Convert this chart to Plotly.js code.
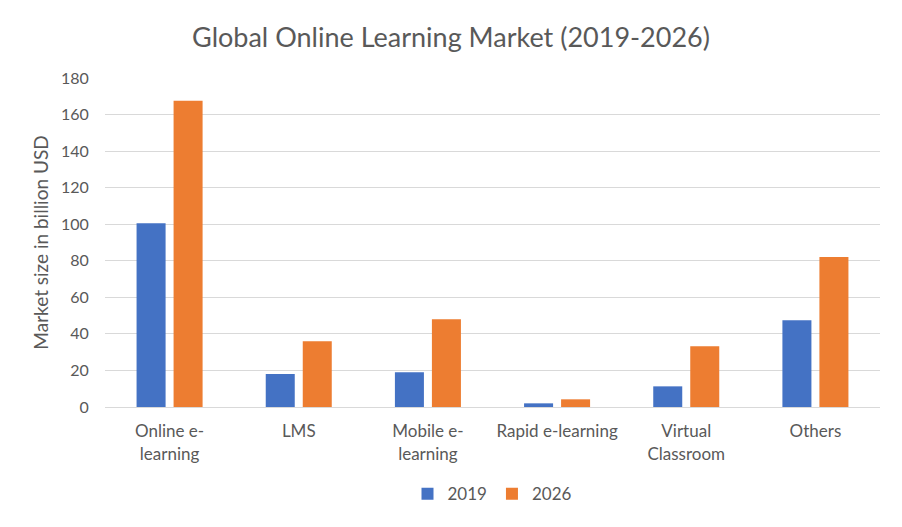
<!DOCTYPE html>
<html>
<head>
<meta charset="utf-8">
<script src="https://cdn.plot.ly/plotly-3.0.1.min.js"></script>
<style>
html,body{margin:0;padding:0;background:#fff;}
#chart{width:902px;height:527px;outline:1px solid #d9d9d9;outline-offset:-1px;}
</style>
</head>
<body>
<div id="chart"></div>
<script>
const categories = ["Online e-<br>learning", "LMS", "Mobile e-<br>learning", "Rapid e-learning", "Virtual<br>Classroom", "Others"];
const values2019 = [100.5, 18, 19, 2, 11.3, 47.5];
const values2026 = [167.5, 36, 48, 4.2, 33.3, 82];
const seriesNames = ["2019", "2026"];
const yTicks = [0, 20, 40, 60, 80, 100, 120, 140, 160, 180];

const fontFam = "Lato, 'Open Sans', sans-serif";
const gray = "#595959";

const traces = [
  {type: "bar", name: seriesNames[0], x: categories, y: values2019, marker: {color: "#4472c4"}},
  {type: "bar", name: seriesNames[1], x: categories, y: values2026, marker: {color: "#ed7d31"}}
];

const layout = {
  width: 902, height: 527,
  margin: {l: 105, r: 22, t: 78, b: 120},
  paper_bgcolor: "#fff", plot_bgcolor: "#fff",
  font: {family: fontFam, color: gray, size: 16},
  title: {text: "Global Online Learning Market (2019-2026)", font: {size: 27, color: gray, family: fontFam}, x: 0.5, xanchor: "center", y: 1 - 38/527, yanchor: "middle", yref: "container"},
  barmode: "group",
  bargap: 0.427,
  bargroupgap: 0.216,
  xaxis: {
    type: "category", showgrid: false, zeroline: false, showline: false,
    ticks: "outside", ticklen: 9, tickcolor: "rgba(0,0,0,0)",
    tickfont: {size: 17, color: gray}
  },
  yaxis: {
    range: [0, 180], tickvals: yTicks, ticktext: yTicks.map(String),
    showgrid: true, gridcolor: "#d9d9d9", gridwidth: 1,
    zeroline: true, zerolinecolor: "#d9d9d9", zerolinewidth: 1,
    showline: false, ticks: "outside", ticklen: 12, tickcolor: "rgba(0,0,0,0)",
    tickfont: {size: 16, color: gray},
    title: {text: "Market size in billion USD", font: {size: 19, color: gray}, standoff: 7}
  },
  legend: {orientation: "h", x: 0.5, xanchor: "center", y: -0.265, yanchor: "middle", font: {size: 17, color: gray}, traceorder: "normal", itemwidth: 30},
  showlegend: true
};

Plotly.newPlot("chart", traces, layout, {displayModeBar: false, staticPlot: true});
</script>
</body>
</html>
